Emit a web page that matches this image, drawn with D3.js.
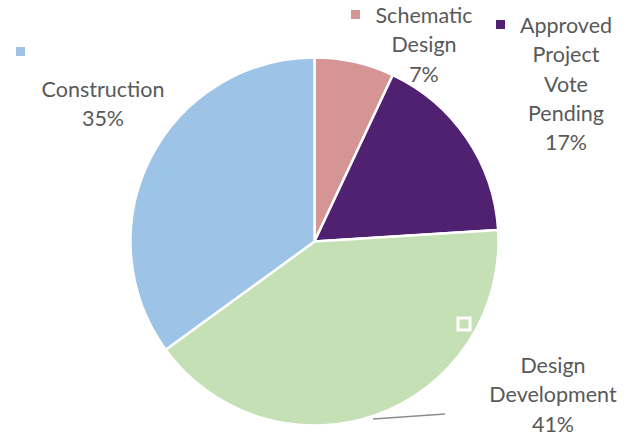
<!DOCTYPE html>
<html><head><meta charset="utf-8">
<script src="https://cdn.jsdelivr.net/npm/d3@7"></script>
<style>html,body{margin:0;padding:0;background:#fff;} svg{display:block;}</style>
</head><body>
<svg id="chart" width="633" height="436"></svg>
<script>
const categories = ["Schematic Design", "Approved Project Vote Pending", "Design Development", "Construction"];
const values = [7, 17, 41, 35];
const labelLines = [["Schematic", "Design"], ["Approved", "Project", "Vote", "Pending"], ["Design", "Development"], ["Construction"]];
const colors = ["#D59594", "#4F2170", "#C5E0B4", "#9DC3E6"];

// layout (label anchors, legend key positions)
const labelPos = [
  {x: 424, y: 23}, {x: 566, y: 33}, {x: 553, y: 373}, {x: 103, y: 97}
];
const keyPos = [
  {x: 351, y: 10, type: "plain"}, {x: 496, y: 20, type: "plain"},
  {x: 458, y: 318, type: "outlined"}, {x: 16, y: 47, type: "plain"}
];

const svg = d3.select("#chart");
const cx = 314.5, cy = 241.5, R = 184;
const total = d3.sum(values);
const pie = d3.pie().sort(null).value(d => d)(values);
const arc = d3.arc().innerRadius(0).outerRadius(R);

const g = svg.append("g").attr("transform", `translate(${cx},${cy})`);
g.selectAll("path").data(pie).join("path")
  .attr("d", arc)
  .attr("fill", (d, i) => colors[i])
  .attr("stroke", "#fff").attr("stroke-width", 2.5).attr("stroke-linejoin", "round");

// leader line for Design Development
svg.append("line").attr("x1", 373).attr("y1", 419).attr("x2", 445).attr("y2", 414)
  .attr("stroke", "#8C8C8C").attr("stroke-width", 1.5);

// legend keys
keyPos.forEach((k, i) => {
  if (k.type === "plain") {
    svg.append("rect").attr("x", k.x).attr("y", k.y).attr("width", 9).attr("height", 9).attr("fill", colors[i]);
  } else {
    svg.append("rect").attr("x", k.x).attr("y", k.y).attr("width", 12).attr("height", 12)
      .attr("fill", colors[i]).attr("stroke", "#fff").attr("stroke-width", 3);
  }
});

// labels
const lh = 29.3;
labelLines.forEach((lines, i) => {
  const t = svg.append("text").attr("text-anchor", "middle")
    .attr("font-family", "Lato, 'Open Sans', sans-serif").attr("font-size", 21.5).attr("fill", "#595959");
  const all = lines.concat([Math.round(values[i] / total * 100) + "%"]);
  all.forEach((s, j) => {
    t.append("tspan").attr("x", labelPos[i].x).attr("y", labelPos[i].y + j * lh).text(s);
  });
});
</script>
</body></html>
